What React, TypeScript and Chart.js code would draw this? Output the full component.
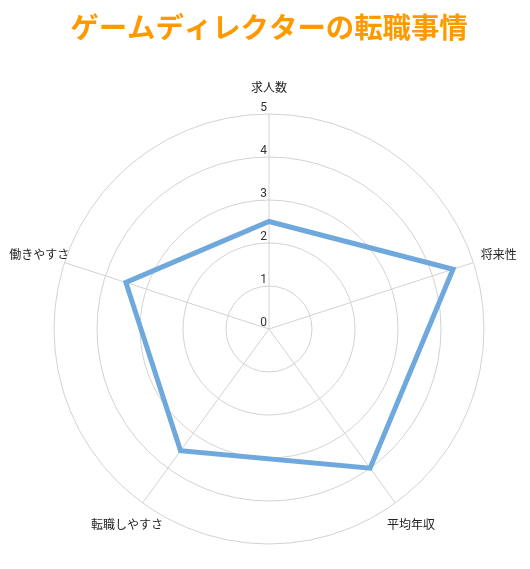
import React, { useEffect, useRef } from "react";
import { Chart, registerables } from "chart.js";

Chart.register(...registerables);

const TITLE = "ゲームディレクターの転職事情";
const CATEGORIES = ["求人数", "将来性", "平均年収", "転職しやすさ", "働きやすさ"];
const VALUES = [2.5, 4.5, 4, 3.5, 3.5];
const TICKS = [0, 1, 2, 3, 4, 5];

const labelPlugin = {
  id: "radarLabels",
  afterDraw(chart: any) {
    const scale = chart.scales.r;
    const ctx = chart.ctx;
    ctx.save();
    // tick labels
    ctx.font = "12px Roboto, 'Liberation Sans', sans-serif";
    ctx.fillStyle = "#333";
    ctx.textAlign = "right";
    ctx.textBaseline = "alphabetic";
    TICKS.forEach((t) => {
      const d = scale.getDistanceFromCenterForValue(t);
      ctx.fillText(String(t), scale.xCenter - 2, scale.yCenter - d - 3.5);
    });
    // point labels
    ctx.font = "12px 'Noto Sans CJK JP', sans-serif";
    ctx.fillStyle = "#222";
    ctx.textAlign = "center";
    ctx.textBaseline = "middle";
    CATEGORIES.forEach((c, i) => {
      const p = scale.getPointPosition(i, scale.drawingArea + 26.5);
      ctx.fillText(c, p.x, p.y);
    });
    ctx.restore();
  },
};

export default function App() {
  const ref = useRef<HTMLCanvasElement | null>(null);
  useEffect(() => {
    if (!ref.current) return;
    const chart = new Chart(ref.current, {
      type: "radar",
      data: {
        labels: CATEGORIES,
        datasets: [
          {
            data: VALUES,
            borderColor: "#6FA8DC",
            borderWidth: 5,
            fill: false,
            pointRadius: 0,
            pointHoverRadius: 0,
          },
        ],
      },
      options: {
        animation: false,
        responsive: true,
        maintainAspectRatio: false,
        layout: { padding: { left: 45, right: 37, top: 0, bottom: 16 } },
        plugins: {
          legend: { display: false },
          tooltip: { enabled: false },
          title: {
            display: true,
            text: TITLE,
            color: "#FF9900",
            font: { size: 28.4, weight: "bold", family: "'Noto Sans CJK JP', sans-serif" },
            padding: { top: 2.5, bottom: 68.7 },
          },
        },
        scales: {
          r: {
            min: 0,
            max: 5,
            ticks: { stepSize: 1, display: false },
            grid: { color: "#d2d2d2", lineWidth: 1, circular: true },
            angleLines: { color: "#d2d2d2", lineWidth: 1 },
            pointLabels: { display: false },
          },
        },
      },
      plugins: [labelPlugin],
    });
    return () => chart.destroy();
  }, []);
  return (
    <div style={{ width: 514, height: 553, position: "relative" }}>
      <canvas ref={ref} />
    </div>
  );
}
